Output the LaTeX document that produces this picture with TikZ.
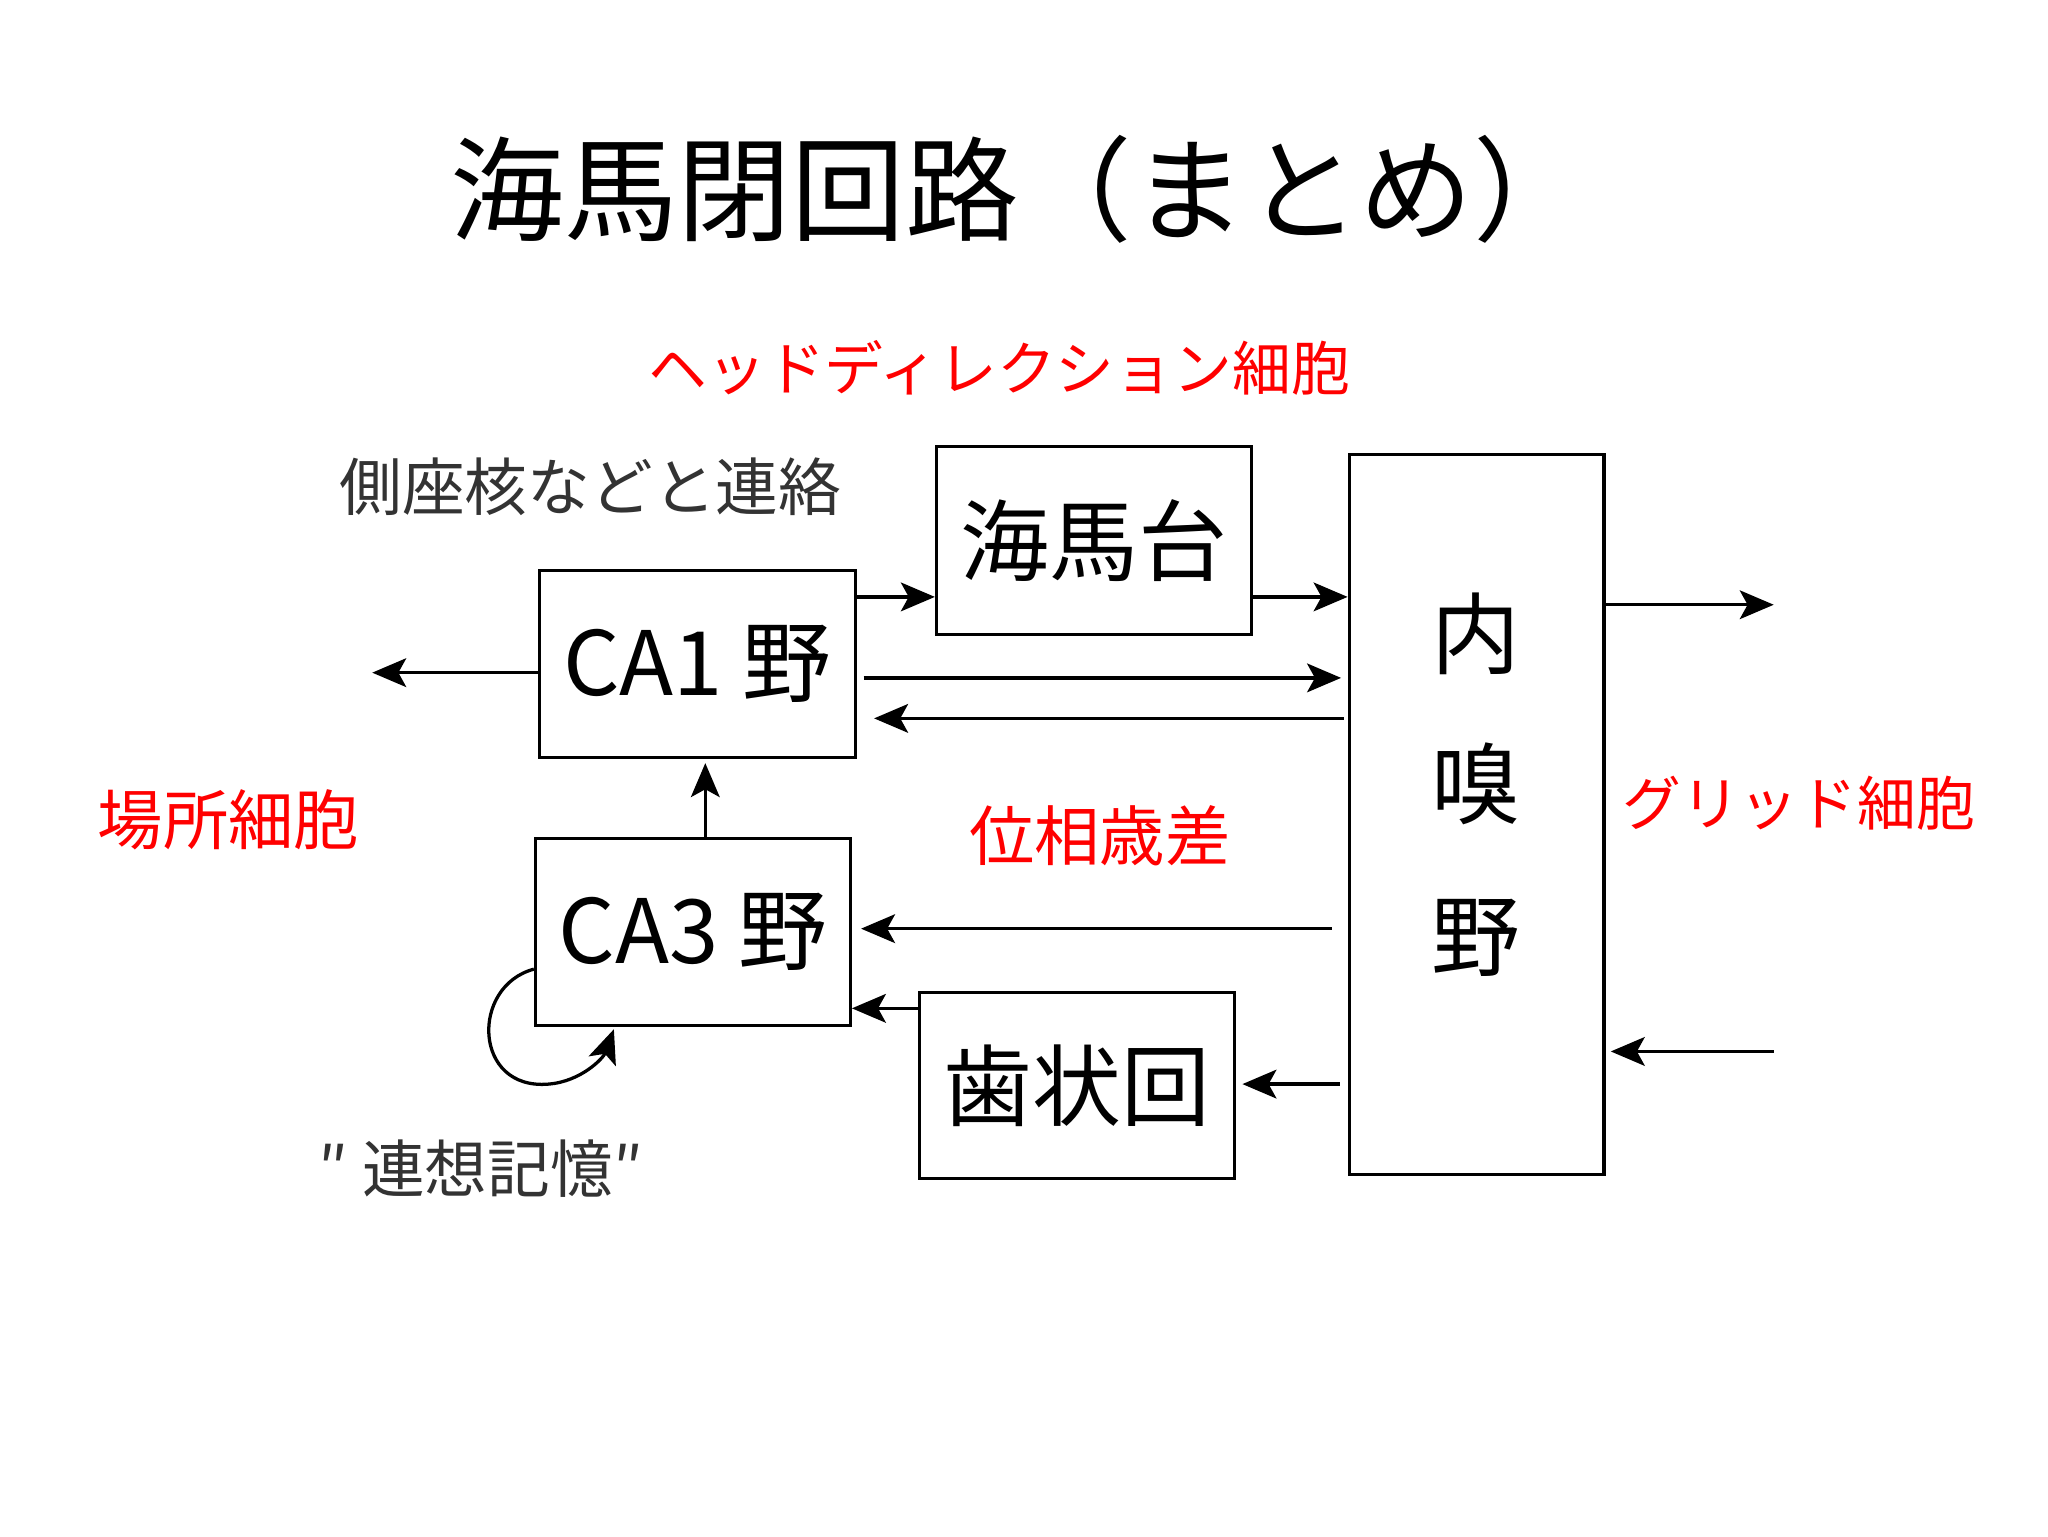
\documentclass[tikz,border=0pt]{standalone}
\usepackage{fontspec}
\setmainfont{Noto Sans CJK JP}
\usetikzlibrary{arrows.meta}
\begin{document}
\begin{tikzpicture}[x=1pt,y=-1pt,
 box/.style={draw,line width=2.5pt,inner sep=0pt},
 arr/.style={line width=2.5pt,-{Stealth[length=26pt,width=22pt,inset=6pt]}},
 red/.style={text=red,font=\fontsize{50}{56}\selectfont},
 redn/.style={text=red,font=\fontsize{45}{50}\selectfont},
 blk/.style={font=\fontsize{48}{54}\selectfont,text=black!80}]
\useasboundingbox (0,0) rectangle (1568,1176);
\node (title) at (780,145) {\fontsize{87}{95}\selectfont 海馬閉回路（まとめ）};
\node[redn] (hd) at (765,282) {ヘッドディレクション細胞};
\node[blk] (sz) at (452,373) {側座核などと連絡};
\node[red] (bs) at (175,628) {場所細胞};
\node[redn] (gr) at (1377,615) {グリッド細胞};
\node[red] (ps) at (842,640) {位相歳差};
\node[blk] (rs) at (368,895) {″ 連想記憶″};
\node[box,minimum width=241pt,minimum height=144pt] (sub) at (837.5,414) {\fontsize{68}{74}\selectfont 海馬台};
\node[box,minimum width=242pt,minimum height=143pt] (ca1) at (534,508.5) {\fontsize{68}{74}\selectfont CA1 野};
\node[box,minimum width=241pt,minimum height=143pt] (ca3) at (530.5,713.5) {\fontsize{68}{74}\selectfont CA3 野};
\node[box,minimum width=241pt,minimum height=142pt] (dg) at (824.5,831) {\fontsize{68}{74}\selectfont 歯状回};
\node[box,minimum width=195pt,minimum height=551pt] (ec) at (1130.5,623.5) {};
\node (n1) at (1130,485) {\fontsize{68}{74}\selectfont 内};
\node (n2) at (1130,600) {\fontsize{68}{74}\selectfont 嗅};
\node (n3) at (1130,718) {\fontsize{68}{74}\selectfont 野};
\coordinate (outR) at (1358,463);
\coordinate (inR) at (1358,805);
\coordinate (outL) at (285,515);
\draw[arr] (ca1.east |- 0,457) -- (sub.west |- 0,457);
\draw[arr] (sub.east |- 0,457) -- (ec.west |- 0,457);
\draw[arr] (ec.east |- 0,463) -- (outR);
\draw[arr] (ca1.west |- 0,515) -- (outL);
\draw[arr] ([xshift=5pt]ca1.east |- 0,519) -- ([xshift=-5pt]ec.west |- 0,519);
\draw[arr] ([xshift=-3pt]ec.west |- 0,550) -- ([xshift=13pt]ca1.east |- 0,550);
\draw[arr] (ca3.north -| 540,0) -- ([yshift=-3pt]ca1.south -| 540,0);
\draw[arr] ([xshift=-12pt]ec.west |- 0,711) -- ([xshift=7pt]ca3.east |- 0,711);
\draw[arr] (dg.west |- 0,772) -- (ca3.east |- 0,772);
\draw[arr] ([xshift=-6pt]ec.west |- 0,830) -- ([xshift=5pt]dg.east |- 0,830);
\draw[arr] (inR) -- ([xshift=4pt]ec.east |- 0,805);
\draw[arr] (ca3.west |- 0,742) .. controls (360,755) and (362,835) .. (420,830) .. controls (445,828) and (462,810) .. (470,788);
\end{tikzpicture}
\end{document}
